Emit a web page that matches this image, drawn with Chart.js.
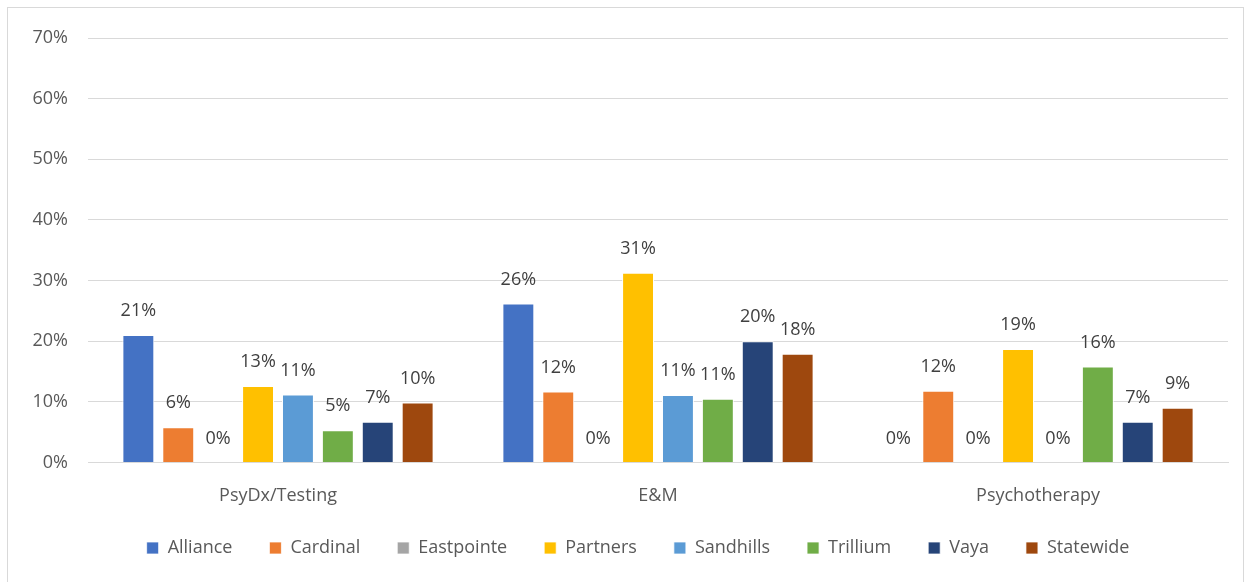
<!DOCTYPE html>
<html><head><meta charset="utf-8">
<script src="https://cdn.jsdelivr.net/npm/chart.js@4/dist/chart.umd.min.js"></script>
<style>
html,body{margin:0;padding:0;background:#fff;overflow:hidden}
#wrap{position:relative;width:1253px;height:582px}
#frame{position:absolute;left:7px;top:7px;width:1237px;height:600px;border:1px solid #d9d9d9;box-sizing:border-box}
canvas{position:absolute;left:0;top:0}
</style></head><body>
<div id="wrap"><div id="frame"></div><canvas id="c" width="1253" height="582"></canvas></div>
<script>
const categories = ["PsyDx/Testing", "E&M", "Psychotherapy"];
const seriesNames = ["Alliance","Cardinal","Eastpointe","Partners","Sandhills","Trillium","Vaya","Statewide"];
const colors = ["#4472C4","#ED7D31","#A5A5A5","#FFC000","#5B9BD5","#70AD47","#264478","#9E480E"];
const alliance   = [21.0, 26.2, 0];
const cardinal   = [5.8, 11.7, 11.8];
const eastpointe = [0, 0, 0];
const partners   = [12.6, 31.3, 18.7];
const sandhills  = [11.2, 11.1, 0];
const trillium   = [5.3, 10.5, 15.8];
const vaya       = [6.7, 20.0, 6.7];
const statewide  = [9.9, 17.9, 9.0];
const yTicks = [0,10,20,30,40,50,60,70];
const allSeries = [alliance,cardinal,eastpointe,partners,sandhills,trillium,vaya,statewide];

const FONT = "'Open Sans', sans-serif";
const labelPlugin = {
  id:'vlabels',
  afterLayout(chart){
    const lg = chart.legend;
    if (lg) { lg.left += 24; lg.right += 24; lg.top -= 20; lg.bottom -= 20; }
  },
  afterDatasetsDraw(chart){
    const ctx = chart.ctx;
    ctx.save();
    ctx.font = "18px " + FONT;
    ctx.fillStyle = "#404040";
    ctx.textAlign = "center";
    ctx.textBaseline = "middle";
    chart.data.datasets.forEach((ds,i)=>{
      const meta = chart.getDatasetMeta(i);
      meta.data.forEach((el,j)=>{
        ctx.fillText(Math.round(ds.data[j]) + "%", el.x, el.y - 24);
      });
    });
    ctx.restore();
  }
};

new Chart(document.getElementById('c'), {
  type:'bar',
  data:{
    labels: categories,
    datasets: seriesNames.map((n,i)=>({
      label:n, data:allSeries[i], backgroundColor:colors[i],
      borderColor:'#ffffff', borderWidth:{top:1,left:1,right:1,bottom:0},
      categoryPercentage:0.84, barPercentage:0.8
    }))
  },
  options:{
    responsive:false, animation:false,
    layout:{padding:{left:0,right:25,top:38,bottom:-5}},
    plugins:{
      legend:{position:'bottom',
        labels:{font:{family:FONT,size:18},color:'#595959',boxWidth:12,boxHeight:12,padding:37}},
      tooltip:{enabled:false}
    },
    scales:{
      x:{grid:{display:false},border:{color:'#d9d9d9'},
         ticks:{font:{family:FONT,size:18},color:'#595959',padding:15}},
      y:{min:0,max:70,
         afterBuildTicks(s){ s.ticks = yTicks.map(v=>({value:v})); },
         afterFit(s){ s.width = 88; },
         grid:{color:'#d9d9d9',drawTicks:false},
         border:{display:false},
         ticks:{font:{family:FONT,size:18},color:'#595959',padding:20,callback:v=>v+'%'}}
    }
  },
  plugins:[labelPlugin]
});
</script></body></html>
